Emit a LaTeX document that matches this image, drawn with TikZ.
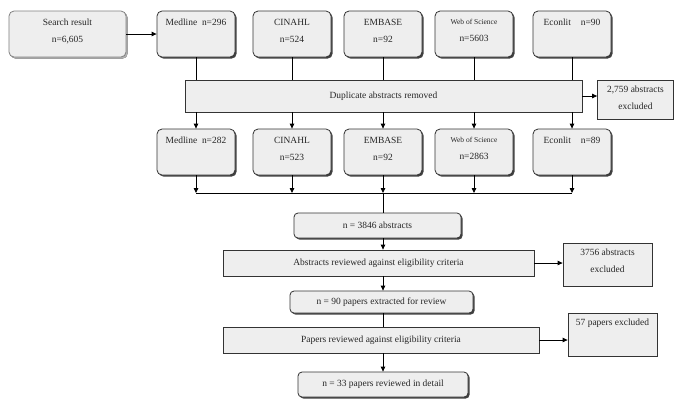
\documentclass[tikz,border=0pt]{standalone}
\usepackage{fontspec}
\setmainfont{Liberation Serif}
\usetikzlibrary{arrows.meta, shadows}

\definecolor{boxfill}{RGB}{238,238,238}
% top-aligned text block inside a box: width, height, text
\newcommand{\toptext}[3]{\parbox[t][#2][t]{#1}{\centering #3}}

\begin{document}
\begin{tikzpicture}[x=1bp, y=-1bp, line width=0.8bp,
  every node/.style={font=\fontsize{9.5}{11.5}\selectfont, text=black!85},
  shadowed/.style={drop shadow={shadow xshift=1.6bp, shadow yshift=-1.6bp, fill=black!75, opacity=1}},
  dbbox/.style={draw=black!80, fill=boxfill, rounded corners=5bp, shadowed,
    minimum width=78bp, minimum height=46bp, inner xsep=2bp, inner ysep=8bp},
  flowbox/.style={draw=black!80, fill=boxfill, rounded corners=4bp, shadowed, minimum height=#1},
  filterbox/.style={draw=black!80, fill=boxfill, minimum height=#1},
  exbox/.style={draw=black!80, fill=boxfill, inner xsep=2bp, inner ysep=6bp},
  arr/.style={-{Triangle[length=5bp,width=4.5bp]}}]
  \useasboundingbox (0,0) rectangle (685,403);
  % Databases searched
  \node[dbbox, draw=black!50, minimum width=117bp,
    drop shadow={shadow xshift=1.6bp, shadow yshift=-1.6bp, fill=black!30, opacity=1}]
    (search) at (67.5,34) {\toptext{100bp}{30bp}{Search result\\[5.5bp] n=6,605}};
  \node[dbbox] (med1) at (196,34) {\toptext{72bp}{30bp}{Medline~~n=296}};
  \node[dbbox] (cin1) at (292,34) {\toptext{72bp}{30bp}{CINAHL\\[5.5bp] n=524}};
  \node[dbbox] (emb1) at (383,34) {\toptext{72bp}{30bp}{EMBASE\\[5.5bp] n=92}};
  \node[dbbox] (wos1) at (474,34) {\toptext{72bp}{30bp}{{\fontsize{7.5}{9}\selectfont Web of Science}\\[5.5bp] n=5603}};
  \node[dbbox] (eco1) at (572,34) {\toptext{72bp}{30bp}{Econlit\hspace{10bp}n=90}};
  % Duplicates
  \node[filterbox=32bp, minimum width=397bp] (dup) at (383.5,96) {Duplicate abstracts removed};
  \node[exbox, minimum width=75bp, minimum height=39bp] (exc1) at (635.5,99.5) {\toptext{72bp}{27bp}{2,759 abstracts\\[5.5bp] excluded}};
  % After duplicates
  \node[dbbox] (med2) at (196,152) {\toptext{72bp}{30bp}{Medline~~n=282}};
  \node[dbbox] (cin2) at (292,152) {\toptext{72bp}{30bp}{CINAHL\\[5.5bp] n=523}};
  \node[dbbox] (emb2) at (383,152) {\toptext{72bp}{30bp}{EMBASE\\[5.5bp] n=92}};
  \node[dbbox] (wos2) at (474,152) {\toptext{72bp}{30bp}{{\fontsize{7.5}{9}\selectfont Web of Science}\\[5.5bp] n=2863}};
  \node[dbbox] (eco2) at (572,152) {\toptext{72bp}{30bp}{Econlit\hspace{10bp}n=89}};
  \coordinate (mrg) at (383,193);
  % Screening
  \node[flowbox=25bp, minimum width=167bp] (n3846) at (377.5,225.5) {n = 3846 abstracts};
  \node[filterbox=26bp, minimum width=311bp] (abs) at (378.5,263) {Abstracts reviewed against eligibility criteria};
  \node[exbox, minimum width=89bp, minimum height=43bp] (exc2) at (607.5,264.5) {\toptext{80bp}{31bp}{3756 abstracts\\[5.5bp] excluded}};
  \node[flowbox=22bp, minimum width=183bp] (n90) at (381.5,302) {n = 90 papers extracted for review};
  \node[filterbox=26bp, minimum width=316bp] (pap) at (381,340) {Papers reviewed against eligibility criteria};
  \node[exbox, minimum width=89bp, minimum height=43bp] (exc3) at (612.5,334.5) {\toptext{84bp}{31bp}{57 papers excluded}};
  \node[flowbox=25bp, minimum width=170bp] (n33) at (383,384.5) {n = 33 papers reviewed in detail};
  % Connectors
  \draw[arr] (search.east) -- (search.east -| med1.west);
  \foreach \db in {med,cin,emb,wos,eco} {
    \draw (\db1.south) -- (\db1.south |- dup.north);
    \draw[arr] (dup.south -| \db2) -- (\db2.north);
    \draw[arr] (\db2.south) -- (\db2.south |- mrg);
  }
  \draw[arr] (dup.east) -- (dup.east -| exc1.west);
  \draw (med2 |- mrg) -- (eco2 |- mrg);
  \draw (mrg) -- (n3846.north -| mrg);
  \draw[arr] (n3846.south -| mrg) -- (abs.north -| mrg);
  \draw[arr] (abs.east) -- (abs.east -| exc2.west);
  \draw[arr] (abs.south -| mrg) -- (n90.north -| mrg);
  \draw (n90.south -| mrg) -- (pap.north -| mrg);
  \draw[arr] (pap.east) -- (pap.east -| exc3.west);
  \draw[arr] (pap.south -| mrg) -- (n33.north -| mrg);
\end{tikzpicture}
\end{document}
